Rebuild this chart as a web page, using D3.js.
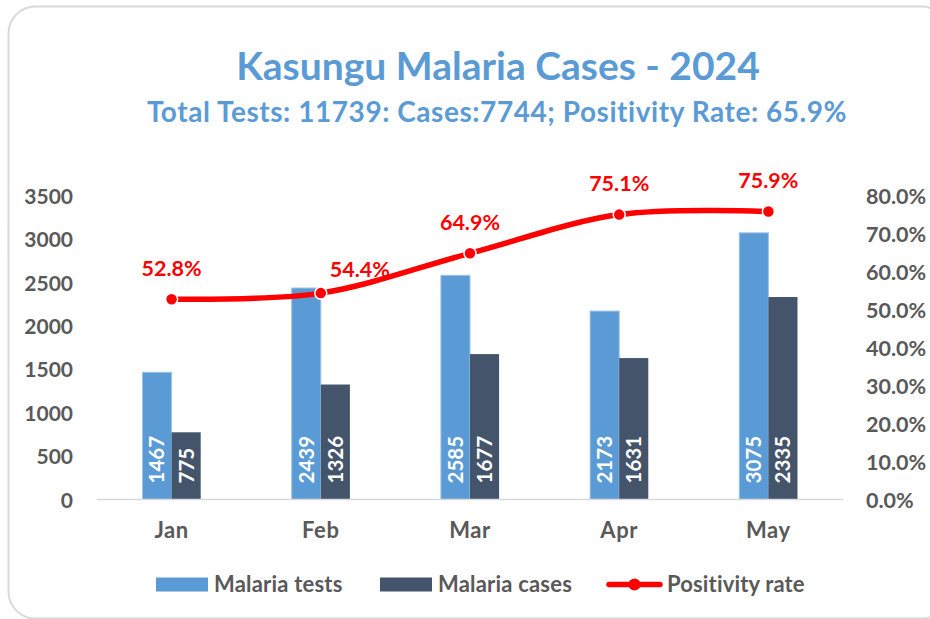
<!DOCTYPE html>
<html>
<head>
<meta charset="utf-8">
<script src="https://cdn.jsdelivr.net/npm/d3@7"></script>
<style>
  html, body { margin: 0; padding: 0; background: #fff; }
  svg { display: block; font-family: Lato, "Open Sans", sans-serif; }
</style>
</head>
<body>
<svg id="chart" width="930" height="619"></svg>
<script>
// ---- data ----
const months = ["Jan", "Feb", "Mar", "Apr", "May"];
const malariaTests = [1467, 2439, 2585, 2173, 3075];
const malariaCases = [775, 1326, 1677, 1631, 2335];
const positivityRate = [0.528, 0.544, 0.649, 0.751, 0.759];
const leftTicks = [0, 500, 1000, 1500, 2000, 2500, 3000, 3500];
const rightTicks = [0, 0.1, 0.2, 0.3, 0.4, 0.5, 0.6, 0.7, 0.8];
const seriesNames = ["Malaria tests", "Malaria cases", "Positivity rate"];
const titleText = "Kasungu Malaria Cases - 2024";
const subtitleText = "Total Tests: 11739: Cases:7744; Positivity Rate: 65.9%";

// ---- styles ----
const cLight = "#5b9bd5", cDark = "#44546a", cRed = "#ff0000", cText = "#595959";

const svg = d3.select("#chart");

// chart frame
svg.append("rect")
  .attr("x", 8.5).attr("y", 6.5).attr("width", 940).attr("height", 612)
  .attr("rx", 27).attr("fill", "#fff").attr("stroke", "#d9d9d9").attr("stroke-width", 2);

// titles
svg.append("text").attr("x", 498).attr("y", 79.5).attr("text-anchor", "middle")
  .attr("fill", cLight).attr("font-weight", 700).attr("font-size", 39).text(titleText);
svg.append("text").attr("x", 497).attr("y", 121.5).attr("text-anchor", "middle")
  .attr("fill", cLight).attr("font-weight", 700).attr("font-size", 28)
  .attr("letter-spacing", 0.55).text(subtitleText);

// scales
const plotLeft = 97, plotRight = 843, plotTop = 196, plotBottom = 499.5;
const x = d3.scaleBand().domain(months).range([plotLeft, plotRight]);
const y = d3.scaleLinear().domain([0, 3500]).range([plotBottom, plotTop]);
const y2 = d3.scaleLinear().domain([0, 0.8]).range([plotBottom, plotTop]);
const barGroupW = x.bandwidth() * 0.39;
const xs = d3.scaleBand().domain([0, 1]).range([0, barGroupW]);
const cx = m => x(m) + x.bandwidth() / 2;

// left axis
const leftAxis = svg.append("g").attr("transform", `translate(${plotLeft - 24},0)`)
  .call(d3.axisLeft(y).tickValues(leftTicks).tickSize(0).tickPadding(0).tickFormat(d3.format("d")));
leftAxis.select(".domain").remove();
leftAxis.selectAll("text").attr("fill", cText).attr("font-size", 21).attr("font-weight", 700)
  .attr("font-family", "Lato").attr("dy", "0.36em");

// right axis
const rightAxis = svg.append("g").attr("transform", `translate(866,0)`)
  .call(d3.axisRight(y2).tickValues(rightTicks).tickSize(0).tickPadding(0).tickFormat(d3.format(".1%")));
rightAxis.select(".domain").remove();
rightAxis.selectAll("text").attr("fill", cText).attr("font-size", 21.5).attr("font-weight", 700)
  .attr("font-family", "Lato").attr("dy", "0.36em");

// bars
const barData = months.map((m, i) => ({ m, vals: [malariaTests[i], malariaCases[i]] }));
const groups = svg.append("g").selectAll("g").data(barData).join("g")
  .attr("transform", d => `translate(${cx(d.m) - barGroupW / 2},0)`);
groups.selectAll("rect").data(d => d.vals.map((v, k) => ({ v, k }))).join("rect")
  .attr("x", d => xs(d.k)).attr("width", xs.bandwidth())
  .attr("y", d => y(d.v)).attr("height", d => y(0) - y(d.v))
  .attr("fill", d => d.k === 0 ? cLight : cDark)
  .attr("stroke", d => d.k === 0 ? "#9dc3e6" : "none").attr("stroke-width", 1);
groups.selectAll("text").data(d => d.vals.map((v, k) => ({ v, k }))).join("text")
  .attr("transform", d => `translate(${xs(d.k) + xs.bandwidth() / 2},${y(0) - 16}) rotate(-90)`)
  .attr("dy", "0.36em").attr("fill", "#fff").attr("font-size", 20.5).attr("font-weight", 700)
  .text(d => d.v);

// category axis
svg.append("line").attr("x1", plotLeft).attr("x2", plotRight).attr("y1", plotBottom).attr("y2", plotBottom)
  .attr("stroke", "#d9d9d9").attr("stroke-width", 1.5);
svg.append("g").selectAll("text").data(months).join("text")
  .attr("x", d => cx(d)).attr("y", 538).attr("text-anchor", "middle")
  .attr("fill", cText).attr("font-size", 22).attr("letter-spacing", 0.6)
  .attr("font-weight", 700).text(d => d);

// positivity line
const pts = months.map((m, i) => [cx(m), y2(positivityRate[i])]);
svg.append("path").attr("d", d3.line().curve(d3.curveCardinal.tension(0))(pts))
  .attr("fill", "none").attr("stroke", cRed).attr("stroke-width", 5.5).attr("stroke-linecap", "round");
svg.append("g").selectAll("circle").data(pts).join("circle")
  .attr("cx", d => d[0]).attr("cy", d => d[1]).attr("r", 6)
  .attr("fill", cRed).attr("stroke", "#fff").attr("stroke-width", 1.5);
svg.append("g").selectAll("text").data(months).join("text")
  .attr("x", (m, i) => cx(m) + (i === 1 ? 39 : 0))
  .attr("y", (m, i) => y2(positivityRate[i]) - (i === 1 ? 24 : 31))
  .attr("dy", "0.36em").attr("text-anchor", "middle")
  .attr("fill", cRed).attr("font-size", 21.5).attr("font-weight", 700)
  .text((m, i) => d3.format(".1%")(positivityRate[i]));

// legend
const lg = svg.append("g");
const legendY = 584.5;
lg.append("rect").attr("x", 156).attr("y", legendY - 7).attr("width", 52).attr("height", 14).attr("fill", cLight);
lg.append("text").attr("x", 214).attr("y", legendY).attr("dy", "0.36em").attr("letter-spacing", 0.2)
  .attr("fill", cText).attr("font-size", 22).attr("font-weight", 700).text(seriesNames[0]);
lg.append("rect").attr("x", 380).attr("y", legendY - 7).attr("width", 52).attr("height", 14).attr("fill", cDark);
lg.append("text").attr("x", 438).attr("y", legendY).attr("dy", "0.36em").attr("letter-spacing", 0.2)
  .attr("fill", cText).attr("font-size", 22).attr("font-weight", 700).text(seriesNames[1]);
lg.append("line").attr("x1", 609).attr("x2", 660).attr("y1", legendY).attr("y2", legendY)
  .attr("stroke", cRed).attr("stroke-width", 5.5).attr("stroke-linecap", "round");
lg.append("circle").attr("cx", 634.5).attr("cy", legendY).attr("r", 6).attr("fill", cRed);
lg.append("text").attr("x", 667).attr("y", legendY).attr("dy", "0.36em").attr("letter-spacing", 0.15)
  .attr("fill", cText).attr("font-size", 22).attr("font-weight", 700).text(seriesNames[2]);
</script>
</body>
</html>
